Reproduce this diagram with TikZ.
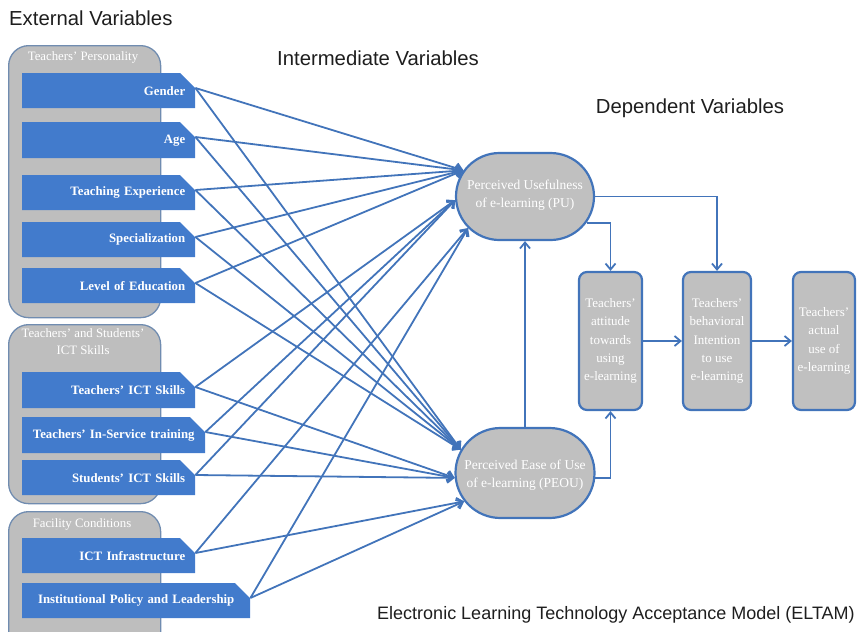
\documentclass[tikz,border=0pt]{standalone}
\usepackage{fontspec}
\setmainfont{Liberation Serif}
\newfontfamily\hdrfont{Liberation Sans}
\usetikzlibrary{shapes.misc,arrows.meta}
\definecolor{tagfill}{RGB}{66,123,204}
\definecolor{linecol}{RGB}{66,116,186}
\definecolor{grpfill}{RGB}{190,190,190}
\definecolor{grpborder}{RGB}{112,140,176}
\definecolor{nodefill}{RGB}{192,192,192}
\definecolor{hdrcol}{RGB}{30,30,30}
\newcommand\mytag[7][right]{%
  \pgfmathsetmacro\tgw{#5-#3-20}%
  \pgfmathsetmacro\tgh{#6-#4}%
  \fill[tagfill] (#3,#4) -- ({#5-15},#4) -- (#5,{#4+15}) -- (#5,#6) -- (#3,#6) -- cycle;
  \node[tagtext, align=#1, text width=\tgw pt, minimum height=\tgh pt, anchor=north west] (#2) at (#3,#4) {#7};
}
\begin{document}
\begin{tikzpicture}[x=1pt,y=-1pt,
  hdrtext/.style={font=\hdrfont\fontsize{20.3}{24}\selectfont, text=hdrcol, inner sep=0},
  grp/.style={draw=grpborder, fill=grpfill, line width=1.3pt, rounded corners=20pt, inner sep=0, anchor=north west},
  grptitle/.style={font=\fontsize{12.8}{17}\selectfont, text=white, inner sep=0},
  tagtext/.style={font=\bfseries\fontsize{12.8}{14}\selectfont, text=white, inner xsep=10pt, inner ysep=0},
  stadium/.style={rounded rectangle, draw=linecol, fill=nodefill, line width=2.2pt, inner sep=0},
  nodetext/.style={font=\fontsize{13.5}{17.5}\selectfont, text=white, align=center, inner sep=0},
  depbox/.style={draw=linecol, fill=nodefill, line width=2.2pt, rounded corners=8pt, inner sep=0, align=center, text=white, font=\fontsize{13}{18.3}\selectfont},
  conn/.style={draw=linecol, line width=1.8pt, -{Straight Barb[length=6pt,width=10pt]}}
]
\useasboundingbox (0,0) rectangle (857,632);
\clip (0,0) rectangle (857,632);

% headers
\node[hdrtext, anchor=west] (ext) at (9,18) {External Variables};
\node[hdrtext] (inter) at (378,58) {Intermediate Variables};
\node[hdrtext] (dep) at (690,108) {Dependent Variables};
\node[hdrtext, font=\hdrfont\fontsize{18}{22}\selectfont, anchor=east] (model) at (855,615) {Electronic Learning Technology Acceptance Model (ELTAM)};

% groups
\node[grp, minimum width=152pt, minimum height=272pt] (g1) at (8,45) {};
\node[grp, minimum width=152pt, minimum height=179pt] (g2) at (8,324) {};
\node[grp, minimum width=152pt, minimum height=150pt] (g3) at (8,511) {};
\node[grptitle] (g1t) at (83,57) {Teachers’ Personality};
\node[grptitle, align=center] (g2t) at (83,342) {Teachers’ and Students’\\ICT Skills};
\node[grptitle] (g3t) at (82,524) {Facility Conditions};

% tags
\mytag{gender}{22}{73}{195}{108}{Gender}
\mytag{age}{22}{122}{195}{158}{Age}
\mytag{teachexp}{22}{175}{195}{210}{Teaching Experience}
\mytag{special}{22}{222}{195}{257}{Specialization}
\mytag{educ}{22}{268}{195}{303}{Level of Education}
\mytag{tict}{22}{372}{195}{408}{Teachers’ ICT Skills}
\mytag[center]{inserv}{22}{417}{205}{453}{Teachers’ In-Service training}
\mytag{sict}{22}{460}{195}{495}{Students’ ICT Skills}
\mytag{infra}{22}{538}{195}{573}{ICT Infrastructure}
\mytag[center]{policy}{22}{583}{250}{618}{Institutional Policy and Leadership}

% intermediate nodes
\node[stadium, minimum width=138pt, minimum height=87pt] (pu) at (525,196.5) {};
\node[nodetext] (putext) at (525,195) {Perceived Usefulness\\of e-learning (PU)};
\node[stadium, minimum width=139pt, minimum height=90pt] (peou) at (525,473) {};
\node[nodetext] (peoutext) at (525,475) {Perceived Ease of Use\\of e-learning (PEOU)};

% dependent nodes
\node[depbox, minimum width=63pt, minimum height=138pt] (att) at (610.5,341) {Teachers’\\attitude\\towards\\using\\e-learning};
\node[depbox, minimum width=68pt, minimum height=138pt] (int) at (717,341) {Teachers’\\behavioral\\Intention\\to use\\e-learning};
\node[depbox, minimum width=62pt, minimum height=138pt] (act) at (824,341) {Teachers’\\actual\\use of\\e-learning};

% connectors from external variables
\foreach \s in {gender,age,teachexp,special,educ}{
  \draw[conn] ([yshift=-15pt]\s.north east) -- (pu.157);
  \draw[conn] ([yshift=-15pt]\s.north east) -- (peou.160);
}
\foreach \s in {tict,inserv,sict}{
  \draw[conn] ([yshift=-15pt]\s.north east) -- (pu.183);
  \draw[conn] ([yshift=-15pt]\s.north east) -- (peou.184);
}
\foreach \s in {infra,policy}{
  \draw[conn] ([yshift=-15pt]\s.north east) -- (pu.209);
  \draw[conn] ([yshift=-15pt]\s.north east) -- (peou.205);
}

% internal connectors
\draw[conn] (peou.north) -- (pu.south);
\draw[conn] (pu.east) -| (int.north);
\draw[conn] (pu.-23) -| (att.north);
\draw[conn] (peou.-4) -| (att.south);
\draw[conn] (att.east) -- (int.west);
\draw[conn] (int.east) -- (act.west);
\end{tikzpicture}
\end{document}
